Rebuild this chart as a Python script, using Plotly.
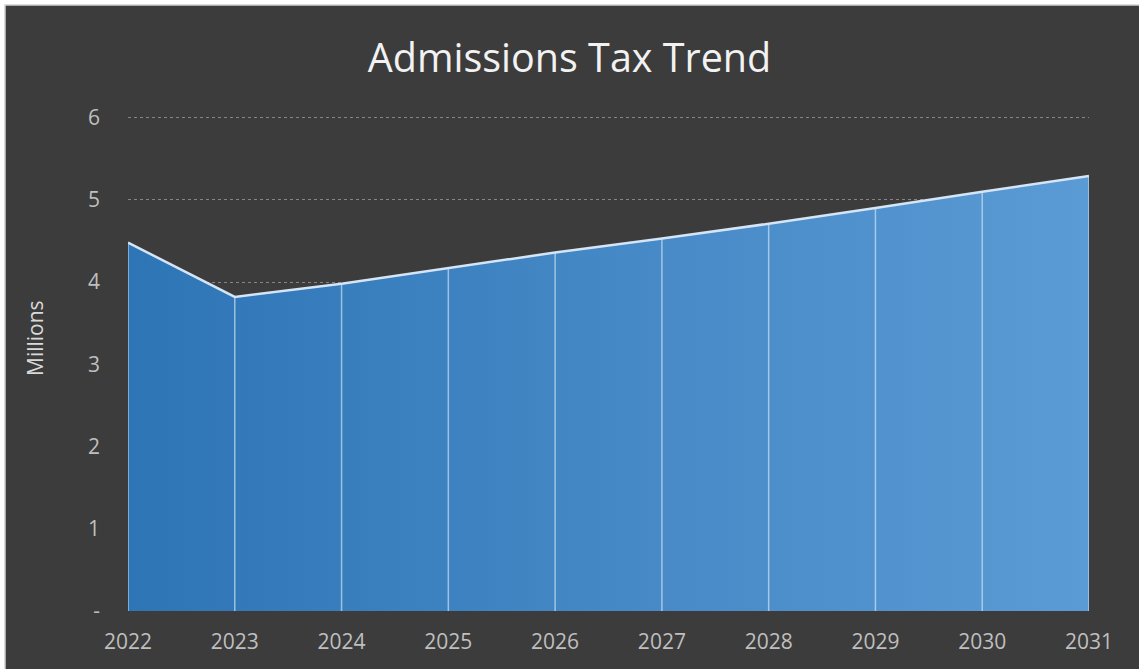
import plotly.graph_objects as go

years = [2022, 2023, 2024, 2025, 2026, 2027, 2028, 2029, 2030, 2031]
values = [4.48, 3.82, 3.98, 4.17, 4.36, 4.53, 4.71, 4.90, 5.10, 5.29]
y_tick_vals = [0, 1, 2, 3, 4, 5, 6]
y_tick_text = ["-", "1", "2", "3", "4", "5", "6"]

W, H = 1139, 669
L, R, T, B = 128, 50, 116, 58
pw, ph = W - L - R, H - T - B

def px_x(p):
    return (p - L) / pw

def px_y(p):
    return (H - B - p) / ph

fig = go.Figure()

fig.add_trace(go.Scatter(
    x=years, y=values, mode="lines", fill="tozeroy",
    fillgradient=dict(type="horizontal",
                      colorscale=[[0, "#2E75B6"], [1, "#5B9BD5"]]),
    line=dict(color="rgba(0,0,0,0)", width=0),
    hoverinfo="skip", showlegend=False,
))

vx, vy = [], []
for x, v in zip(years, values):
    vx += [x, x, None]
    vy += [0, v, None]
fig.add_trace(go.Scatter(
    x=vx, y=vy, mode="lines",
    line=dict(color="rgba(225,238,252,0.6)", width=1.5),
    hoverinfo="skip", showlegend=False,
))

fig.add_trace(go.Scatter(
    x=years, y=values, mode="lines",
    line=dict(color="#D5E5F6", width=2.5),
    hoverinfo="skip", showlegend=False,
))

fig.add_shape(type="rect", xref="paper", yref="paper",
              x0=px_x(5), x1=px_x(W + 10), y0=px_y(H + 10), y1=px_y(5),
              fillcolor="#3C3C3C", line=dict(color="#D0D0D0", width=1.5),
              layer="below")

fig.add_annotation(text="Millions", xref="paper", yref="paper",
                   x=px_x(35), y=px_y(338), xanchor="center", yanchor="middle",
                   textangle=-90, showarrow=False,
                   font=dict(family="Open Sans", size=21, color="#D9D9D9"))

fig.update_layout(
    width=W, height=H,
    margin=dict(l=L, r=R, t=T, b=B),
    paper_bgcolor="white",
    plot_bgcolor="#3C3C3C",
    title=dict(text="Admissions Tax Trend", x=0.5, xref="container", xanchor="center",
               y=1 - 58 / H, yref="container", yanchor="middle",
               font=dict(family="Open Sans", size=39.5, color="#F2F2F2")),
    font=dict(family="Open Sans", color="#BFBFBF"),
    xaxis=dict(range=[years[0], years[-1]], tickvals=years,
               ticktext=[str(y) for y in years], showgrid=False, zeroline=False,
               showline=False, ticks="", ticklabelstandoff=16,
               tickfont=dict(size=21, color="#BFBFBF")),
    yaxis=dict(range=[0, 6.02], tickvals=y_tick_vals, ticktext=y_tick_text,
               showgrid=True, gridcolor="#858585", griddash="dot", gridwidth=1,
               zeroline=False, showline=False, ticks="", ticklabelstandoff=27,
               tickfont=dict(size=21, color="#BFBFBF")),
)

fig.write_html("out.html")
